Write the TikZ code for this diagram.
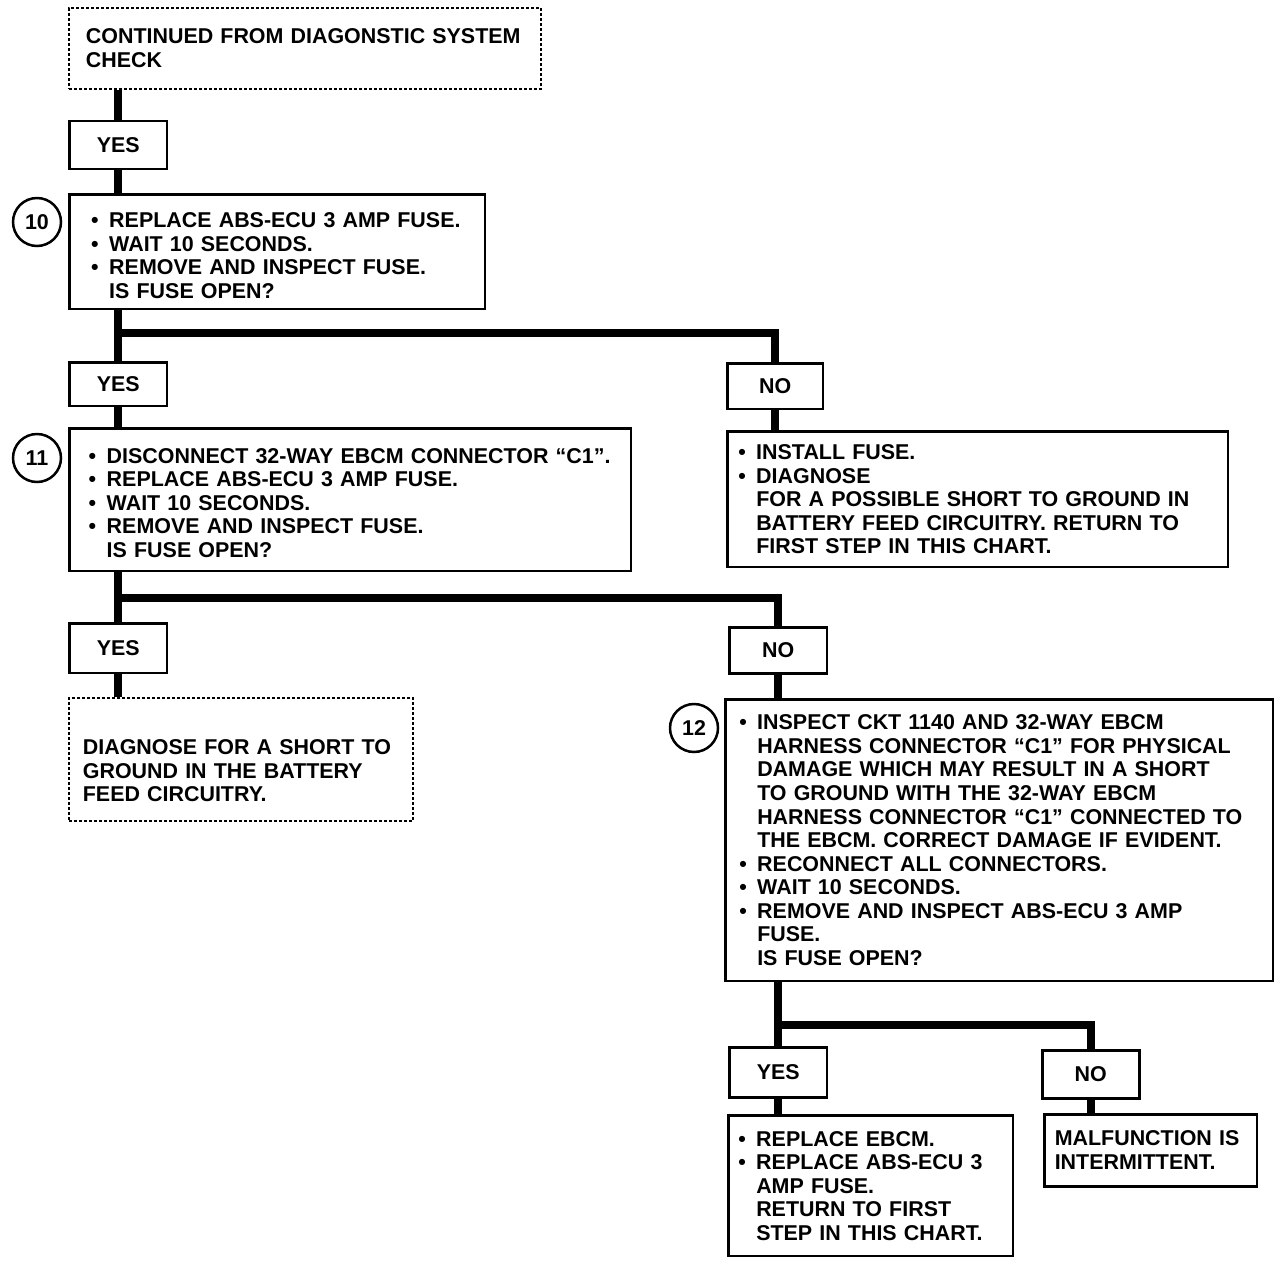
\documentclass[tikz,border=0pt]{standalone}
\usepackage{fontspec}
\setmainfont{Liberation Sans}
\newcommand{\bitem}{\makebox[3.6mm][l]{\textbullet}}
\newcommand{\bcont}{\hspace*{3.6mm}}

\begin{document}
\begin{tikzpicture}[x=0.02cm,y=-0.02cm,
  chart/.style={font=\bfseries\fontsize{12.2}{13.4}\selectfont},
  panel/.style={chart,draw,line width=0.5mm,anchor=north west,align=left,inner ysep=1.5mm,
    execute at begin node={\hyphenpenalty=10000\exhyphenpenalty=10000}},
  openpanel/.style={panel,dash pattern=on 0.6mm off 0.4mm,line width=0.35mm},
  answer/.style={chart,draw,line width=0.5mm,anchor=north west,minimum width=19.6mm,minimum height=9.6mm,inner sep=0pt},
  stepno/.style={chart,circle,draw,line width=0.5mm,minimum size=9.6mm,inner sep=0pt},
  link/.style={line width=1.6mm}]
  \useasboundingbox (0,0) rectangle (1280,1264);

  \node at (68,7) [openpanel,text width=87.6mm,minimum height=16.2mm,inner xsep=3.4mm] (start) {CONTINUED FROM DIAGONSTIC SYSTEM\\CHECK};
  \node at (68,120) [answer] (yesA) {YES};
  \node at (68,193) [panel,text width=74.4mm,minimum height=23mm,inner xsep=4.4mm] (step10) {\rule{0pt}{4.6mm}\bitem REPLACE ABS-ECU 3 AMP FUSE.\\
    \bitem WAIT 10 SECONDS.\\
    \bitem REMOVE AND INSPECT FUSE.\\
    \bcont IS FUSE OPEN?};
  \node at (37,222) [stepno] (num10) {10};

  \node at (68,361) [answer,minimum height=8.8mm] (yesB) {YES};
  \node at (726,362) [answer,minimum width=19.2mm,minimum height=9.2mm] (noB) {NO};
  \node at (68,427) [panel,text width=104.6mm,minimum height=28.6mm,inner xsep=3.9mm] (step11) {\rule{0pt}{4.2mm}\bitem DISCONNECT 32-WAY EBCM CONNECTOR “C1”.\\
    \bitem REPLACE ABS-ECU 3 AMP FUSE.\\
    \bitem WAIT 10 SECONDS.\\
    \bitem REMOVE AND INSPECT FUSE.\\
    \bcont IS FUSE OPEN?};
  \node at (37,458) [stepno] (num11) {11};
  \node at (726,430) [panel,text width=95.8mm,minimum height=27.2mm,inner xsep=2.2mm] (fuseok) {\bitem INSTALL FUSE.\\
    \bitem DIAGNOSE\\
    \bcont FOR A POSSIBLE SHORT TO GROUND IN\\
    \bcont BATTERY FEED CIRCUITRY. RETURN TO\\
    \bcont FIRST STEP IN THIS CHART.};

  \node at (68,622) [answer,minimum height=10mm] (yesC) {YES};
  \node at (728,626) [answer,minimum height=9.2mm] (noC) {NO};
  \node at (68,697) [openpanel,text width=63.2mm,minimum height=24.6mm,inner xsep=2.8mm] (shortgnd) {\rule{0pt}{7.5mm}DIAGNOSE FOR A SHORT TO\\GROUND IN THE BATTERY\\FEED CIRCUITRY.};
  \node at (724,698) [panel,text width=104mm,minimum height=56.4mm,inner xsep=2.8mm] (step12) {\bitem INSPECT CKT 1140 AND 32-WAY EBCM\\
    \bcont HARNESS CONNECTOR “C1” FOR PHYSICAL\\
    \bcont DAMAGE WHICH MAY RESULT IN A SHORT\\
    \bcont TO GROUND WITH THE 32-WAY EBCM\\
    \bcont HARNESS CONNECTOR “C1” CONNECTED TO\\
    \bcont THE EBCM. CORRECT DAMAGE IF EVIDENT.\\
    \bitem RECONNECT ALL CONNECTORS.\\
    \bitem WAIT 10 SECONDS.\\
    \bitem REMOVE AND INSPECT ABS-ECU 3 AMP\\
    \bcont FUSE.\\
    \bcont IS FUSE OPEN?};
  \node at (694,728) [stepno] (num12) {12};

  \node at (728,1046) [answer,minimum height=10mm] (yesD) {YES};
  \node at (1041,1049) [answer,minimum width=19.4mm] (noD) {NO};
  \node at (727,1114) [panel,text width=53mm,minimum height=28.2mm,inner xsep=2mm] (newebcm) {\bitem REPLACE EBCM.\\
    \bitem REPLACE ABS-ECU 3\\
    \bcont AMP FUSE.\\
    \bcont RETURN TO FIRST\\
    \bcont STEP IN THIS CHART.};
  \node at (1043,1113) [panel,text width=38.4mm,minimum height=14.4mm,inner xsep=2.1mm] (intermit) {MALFUNCTION IS\\INTERMITTENT.};

  \coordinate (forkB) at (117,333);
  \coordinate (forkC) at (117,598);
  \coordinate (forkD) at (777,1025);

  \draw[link] (start.south -| yesA.north) -- (yesA.north);
  \draw[link] (yesA.south) -- (step10.north -| yesA.south);
  \draw[link] (step10.south -| yesB.north) -- (yesB.north);
  \draw[link] (forkB) -| (noB.north);
  \draw[link] (yesB.south) -- (step11.north -| yesB.south);
  \draw[link] (noB.south) -- (fuseok.north -| noB.south);
  \draw[link] (step11.south -| yesC.north) -- (yesC.north);
  \draw[link] (forkC) -| (noC.north);
  \draw[link] (yesC.south) -- (shortgnd.north -| yesC.south);
  \draw[link] (noC.south) -- (step12.north -| noC.south);
  \draw[link] (step12.south -| yesD.north) -- (yesD.north);
  \draw[link] (forkD) -| (noD.north);
  \draw[link] (yesD.south) -- (newebcm.north -| yesD.south);
  \draw[link] (noD.south) -- (intermit.north -| noD.south);
\end{tikzpicture}
\end{document}
